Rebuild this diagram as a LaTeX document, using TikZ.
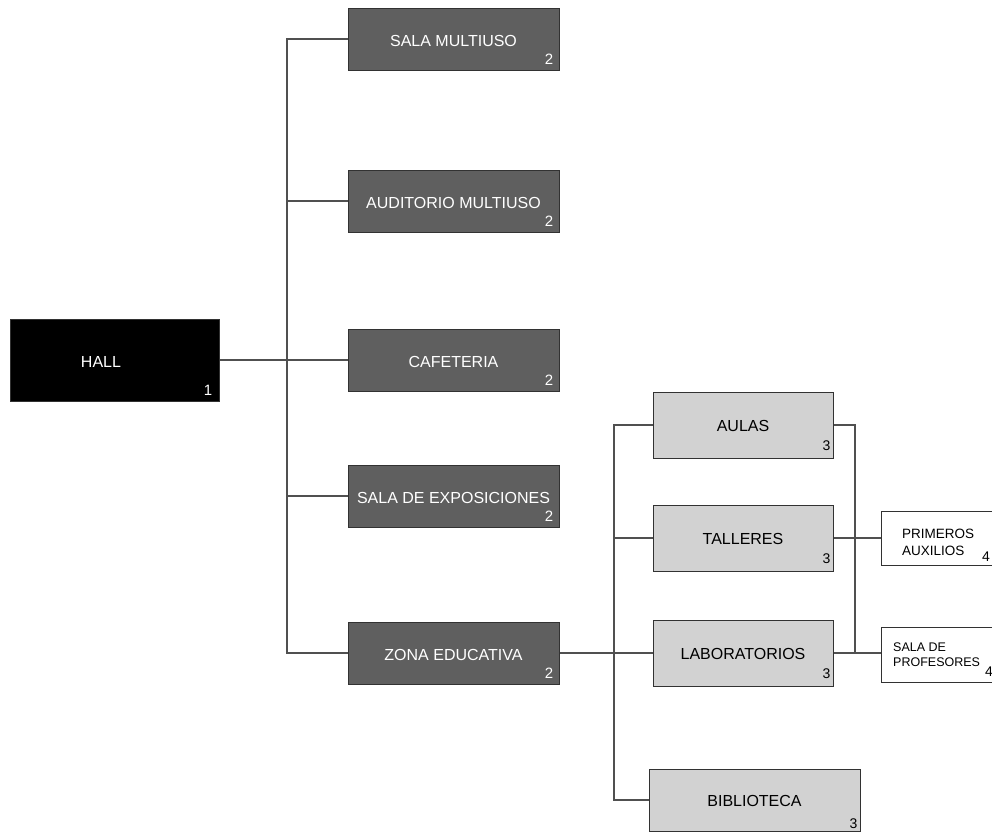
\documentclass[tikz,border=0pt]{standalone}
\usepackage{fontspec}
\setmainfont{Liberation Sans}
\definecolor{dkfill}{RGB}{95,95,95}
\definecolor{ltfill}{RGB}{210,210,210}
\definecolor{edge}{RGB}{50,50,50}
\definecolor{wire}{RGB}{80,80,80}
\begin{document}
\begin{tikzpicture}[x=1pt,y=-1pt,
  box/.style={rectangle,draw=edge,line width=1pt,inner sep=0pt,align=center},
  lvl1/.style={box,fill=black,text=white,minimum width=209pt,minimum height=82pt,font=\fontsize{16}{18}\selectfont},
  lvl2/.style={box,fill=dkfill,text=white,minimum width=211pt,minimum height=62pt,font=\fontsize{16}{18}\selectfont,text height=14pt,text depth=0pt},
  lvl3/.style={box,fill=ltfill,text=black,minimum width=180pt,minimum height=66pt,font=\fontsize{16}{18}\selectfont,text height=13pt,text depth=0pt},
  lvl4/.style={box,fill=white,text=black,minimum width=130pt,minimum height=54pt,align=left},
  num/.style={anchor=south east,inner sep=0pt,font=\fontsize{14}{16}\selectfont},
  bignum/.style={num,font=\fontsize{15}{17}\selectfont},
  wire/.style={draw=wire,line width=1.1pt}]
\useasboundingbox (0,0) rectangle (992,831);

% level 1
\node[lvl1] (hall) at (114.5,360) {};
\node[text=white,font=\fontsize{16}{18}\selectfont,inner sep=0pt] (hallt) at (101,362) {HALL};
\node[bignum,text=white] (hn) at ([xshift=-7pt,yshift=6pt]hall.south east) {1};

% level 2
\node[lvl2] (sm) at (453.5,39) {SALA MULTIUSO};
\node[lvl2] (am) at (453.5,201) {AUDITORIO MULTIUSO};
\node[lvl2] (caf) at (453.5,360) {CAFETERIA};
\node[lvl2] (sde) at (453.5,496) {SALA DE EXPOSICIONES};
\node[lvl2] (ze) at (453.5,653) {ZONA EDUCATIVA};
\foreach \n in {sm,am,caf,sde,ze}
  \node[bignum,text=white] (\n-n) at ([xshift=-6pt,yshift=6pt]\n.south east) {2};

% level 3
\node[lvl3] (aul) at (743,425) {AULAS};
\node[lvl3] (tal) at (743,538) {TALLERES};
\node[lvl3] (lab) at (743,653) {LABORATORIOS};
\node[lvl3,minimum width=211pt,minimum height=62pt] (bib) at (754.5,800) {BIBLIOTECA};
\foreach \n in {aul,tal,lab}
  \node[num] (\n-n) at ([xshift=-3pt,yshift=8pt]\n.south east) {3};
\node[num] (bib-n) at ([xshift=-3pt,yshift=3pt]bib.south east) {3};

% level 4
\node[lvl4] (pa) at (946,538) {};
\node[anchor=west,inner sep=0pt,align=left,font=\fontsize{13.5}{17}\selectfont] (pat) at (902,542) {PRIMEROS\\AUXILIOS};
\node[num] (pa-n) at (990,562) {4};
\node[lvl4,minimum height=55pt] (sp) at (946,654.5) {};
\node[anchor=west,inner sep=0pt,align=left,font=\fontsize{12.5}{15}\selectfont] (spt) at (893,655) {SALA DE\\PROFESORES};
\node[num] (sp-n) at (993,677) {4};

% connectors level 1-2
\coordinate (t1a) at (287,39);
\coordinate (t1b) at (287,653);
\draw[wire] (sm.west) -- (t1a) -- (t1b) -- (ze.west);
\draw[wire] (am.west) -- (am.west -| t1a);
\draw[wire] (sde.west) -- (sde.west -| t1a);
\draw[wire] (hall.east) -- (caf.west);

% connectors level 2-3
\coordinate (t2a) at (614,425);
\coordinate (t2b) at (614,800);
\draw[wire] (aul.west) -- (t2a) -- (t2b) -- (bib.west);
\draw[wire] (tal.west) -- (tal.west -| t2a);
\draw[wire] (ze.east) -- (lab.west);

% connectors level 3-4
\coordinate (t3a) at (855,425);
\coordinate (t3b) at (855,653);
\draw[wire] (aul.east) -- (t3a) -- (t3b);
\draw[wire] (tal.east) -- (pa.west);
\draw[wire] (lab.east) -- (pa.west |- lab.east);
\end{tikzpicture}
\end{document}
